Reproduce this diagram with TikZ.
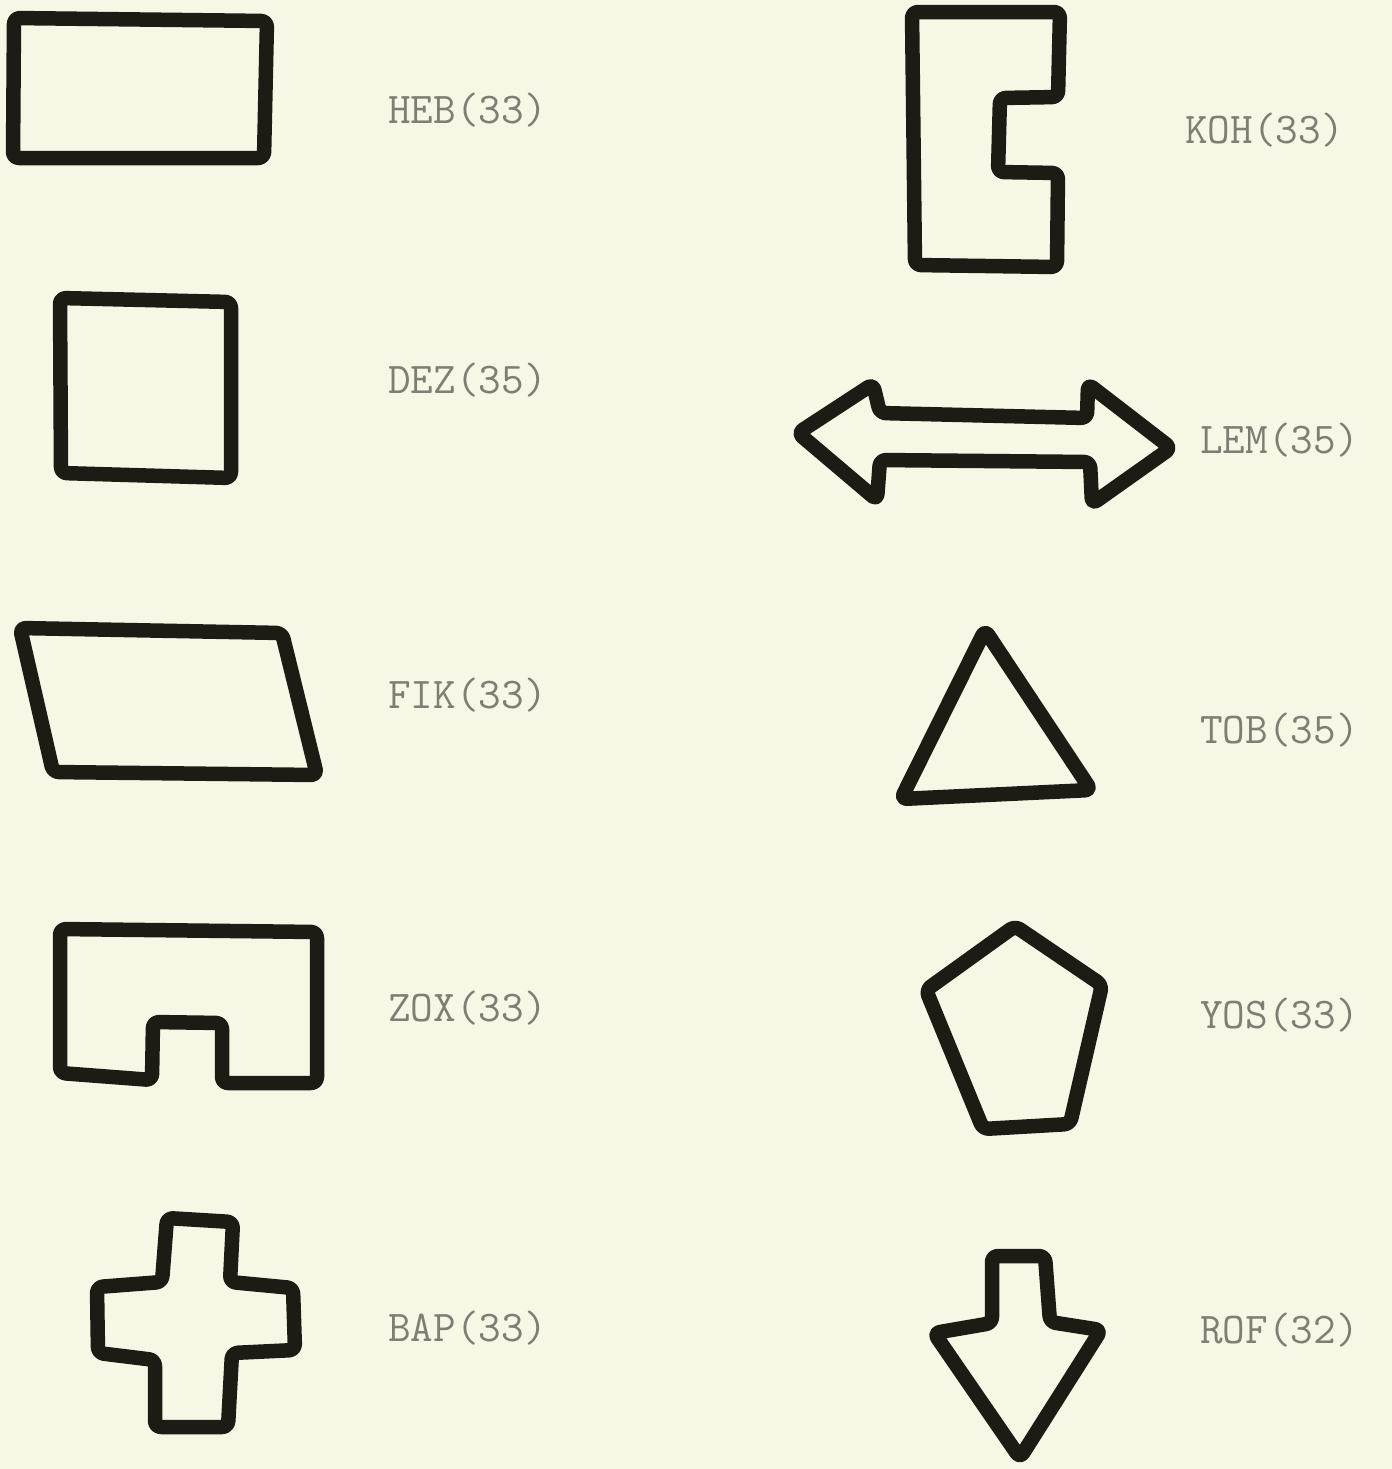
\documentclass[tikz,border=0pt]{standalone}
\usepackage{fontspec}
\definecolor{paper}{HTML}{F7F7E6}
\definecolor{ink}{HTML}{1E1A14}
\definecolor{type}{HTML}{807E74}
\tikzset{
  outline/.style={draw=ink, line width=2.9mm, line join=round, line cap=round, rounded corners=1.2mm},
  tag/.style={anchor=west, text=type, font=\ttfamily\fontsize{25}{28}\selectfont, inner sep=0pt}
}
\begin{document}
\begin{tikzpicture}[x=0.2mm,y=-0.2mm]
\fill[paper] (0,0) rectangle (1392,1469);
\useasboundingbox (0,0) rectangle (1392,1469);
% left column
\draw[outline] (14,18) -- (267,21) -- (264,158) -- (13,158) -- cycle;
\node[tag] (heb) at (388,110) {HEB(33)};
\draw[outline] (60,298) -- (231,302) -- (231,478) -- (61,473) -- cycle;
\node[tag] (dez) at (388,380) {DEZ(35)};
\draw[outline] (20,628) -- (282,633) -- (317,775) -- (53,772) -- cycle;
\node[tag] (fik) at (388,695) {FIK(33)};
\draw[outline] (60,929) -- (317,932) -- (317,1083) -- (222,1083) -- (222,1023)
  -- (153,1022) -- (152,1080) -- (60,1073) -- cycle;
\node[tag] (zox) at (388,1008) {ZOX(33)};
\draw[outline] (167,1218) -- (233,1222) -- (230,1282) -- (293,1288) -- (295,1350)
  -- (232,1353) -- (228,1427) -- (155,1427) -- (155,1360) -- (98,1353)
  -- (97,1287) -- (162,1282) -- cycle;
\node[tag] (bap) at (388,1328) {BAP(33)};
% right column
\draw[outline] (912,12) -- (1060,12) -- (1058,97) -- (1000,98) -- (998,172)
  -- (1058,173) -- (1057,267) -- (915,265) -- cycle;
\node[tag] (koh) at (1185,130) {KOH(33)};
\draw[outline] (798,433) -- (873,384) -- (880,413) -- (1087,418) -- (1088,384)
  -- (1171,448) -- (1092,504) -- (1090,462) -- (880,460) -- (877,500) -- cycle;
\node[tag] (lem) at (1200,440) {LEM(35)};
\draw[outline] (985,630) -- (1091,790) -- (901,799) -- cycle;
\node[tag] (tob) at (1200,730) {TOB(35)};
\draw[outline] (1015,926) -- (1102,985) -- (1070,1124) -- (983,1129) -- (926,990) -- cycle;
\node[tag] (yos) at (1200,1015) {YOS(33)};
\draw[outline] (992,1256) -- (1045,1256) -- (1050,1322) -- (1101,1330) -- (1020,1458)
  -- (934,1333) -- (992,1323) -- cycle;
\node[tag] (rof) at (1200,1330) {ROF(32)};
\end{tikzpicture}
\end{document}
